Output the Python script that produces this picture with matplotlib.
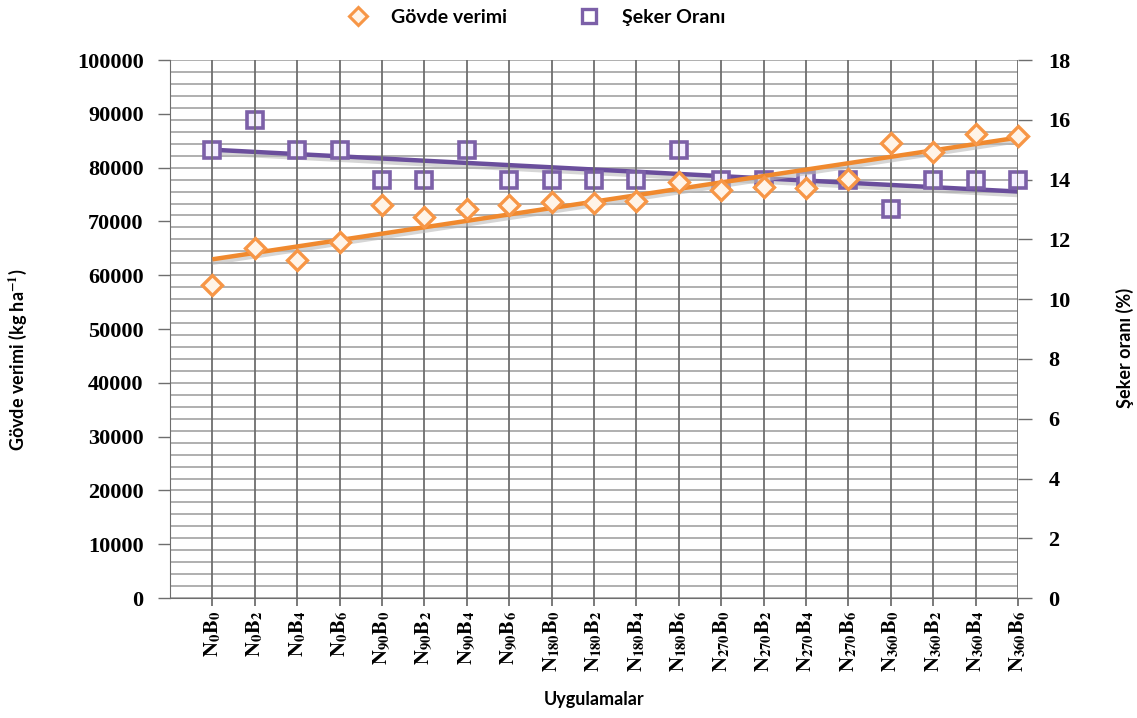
import matplotlib.pyplot as plt
import matplotlib.patheffects as pe
from matplotlib.ticker import MultipleLocator
from matplotlib.lines import Line2D
import numpy as np

plt.rcParams['mathtext.fontset'] = 'stix'

# treatment codes: nitrogen dose / boron dose
n_doses = ["0", "0", "0", "0", "90", "90", "90", "90", "180", "180", "180", "180",
           "270", "270", "270", "270", "360", "360", "360", "360"]
b_doses = ["0", "2", "4", "6"] * 5

govde_verimi = [58200, 65000, 62800, 66200, 73000, 70900, 72300, 73000, 73600, 73400,
                73800, 77400, 75800, 76400, 76200, 77900, 84600, 82900, 86200, 85900]
seker_orani = [15, 16, 15, 15, 14, 14, 15, 14, 14, 14, 14, 15,
               14, 14, 14, 14, 13, 14, 14, 14]

labels = [r"$\mathbf{N}_{\mathbf{%s}}\mathbf{B}_{\mathbf{%s}}$" % (n, b)
          for n, b in zip(n_doses, b_doses)]
x = np.arange(1, len(labels) + 1)

orange = "#F79646"
orange_trend = "#F0892E"
purple = "#7C60A8"
purple_trend = "#6A4E9C"
grid_h = "#9a9a9a"
grid_v = "#6e6e6e"

fig = plt.figure(figsize=(11.37, 7.18), dpi=100)
ax = fig.add_axes([0.1495, 0.167, 0.7458, 0.7494])
ax2 = ax.twinx()

ax.set_xlim(0, 20)
ax.set_ylim(0, 100000)
ax2.set_ylim(0, 18)

# horizontal grid follows the right axis (major 2, minor 0.4)
ax2.yaxis.set_major_locator(MultipleLocator(2))
ax2.yaxis.set_minor_locator(MultipleLocator(0.4))
for v in np.arange(0, 18.01, 0.4):
    ax2.axhline(v, color=grid_h, lw=1.1, zorder=0)
for xi in np.arange(0, 21):
    ax.axvline(xi, color=grid_v, lw=1.3, zorder=0)

ax.yaxis.set_major_locator(MultipleLocator(10000))
ax.set_xticks(x)
ax.set_xticklabels(labels, rotation=90, fontsize=15)

for s in ax.spines.values():
    s.set_visible(False)
for s in ax2.spines.values():
    s.set_visible(False)
ax.spines['left'].set_visible(True)
ax.spines['left'].set_color(grid_v)
ax.spines['bottom'].set_visible(True)
ax.spines['bottom'].set_color(grid_v)

ax.tick_params(axis='y', length=9, width=1, color=grid_v, pad=10)
ax.tick_params(axis='x', length=6, width=1.3, color=grid_v, pad=3)
ax2.tick_params(axis='y', which='major', length=10, width=1, color=grid_v, pad=12)
ax2.tick_params(axis='y', which='minor', length=0)

for lab in ax.get_yticklabels() + ax2.get_yticklabels():
    lab.set_fontfamily("Liberation Serif")
    lab.set_fontweight("bold")
    lab.set_fontsize(16)

# linear trend lines across all treatments
shadow = [pe.SimpleLineShadow(offset=(0, -2.5), shadow_color="#bbbbbb", alpha=0.6), pe.Normal()]
k1 = np.polyfit(x, govde_verimi, 1)
ax.plot(x, np.polyval(k1, x), color=orange_trend, lw=3.2, zorder=3,
        solid_capstyle='butt', path_effects=shadow)
k2 = np.polyfit(x, seker_orani, 1)
ax2.plot(x, np.polyval(k2, x), color=purple_trend, lw=3.2, zorder=3,
         solid_capstyle='butt', path_effects=shadow)

ax.plot(x, govde_verimi, linestyle='none', marker='D', markersize=10.5, clip_on=False,
        markerfacecolor="#fff4e8", markeredgecolor=orange, markeredgewidth=2.4, zorder=4)
ax2.plot(x, seker_orani, linestyle='none', marker='s', markersize=11, clip_on=False,
         markerfacecolor="#f4efff", markeredgecolor=purple, markeredgewidth=2.6, zorder=4)

ax.set_zorder(ax2.get_zorder() + 1)
ax.patch.set_visible(False)

lab_font = dict(family="Lato", weight="bold", fontsize=13)
fig.text(18 / 1137, 1 - 360 / 718, r"Gövde verimi (kg ha$^{\mathbf{-1}}$)",
         rotation=90, ha='center', va='center', **lab_font)
fig.text(1125 / 1137, 1 - 348 / 718, "Şeker oranı (%)",
         rotation=90, ha='center', va='center', **lab_font)
ax.set_xlabel("Uygulamalar", labelpad=14, **lab_font)

handles = [
    Line2D([], [], linestyle='none', marker='D', markersize=9, markerfacecolor="#fff4e8",
           markeredgecolor=orange, markeredgewidth=2.2),
    Line2D([], [], linestyle='none', marker='s', markersize=10, markerfacecolor="white",
           markeredgecolor=purple, markeredgewidth=2.4),
]
fig.legend(handles, ["Gövde verimi", "Şeker Oranı"], loc='upper center',
           bbox_to_anchor=(0.468, 1.012), ncol=2, frameon=False, columnspacing=3.2,
           handletextpad=0.7, prop=dict(family="Lato", weight="bold", size=14))

fig.savefig("out.png", dpi=100)
